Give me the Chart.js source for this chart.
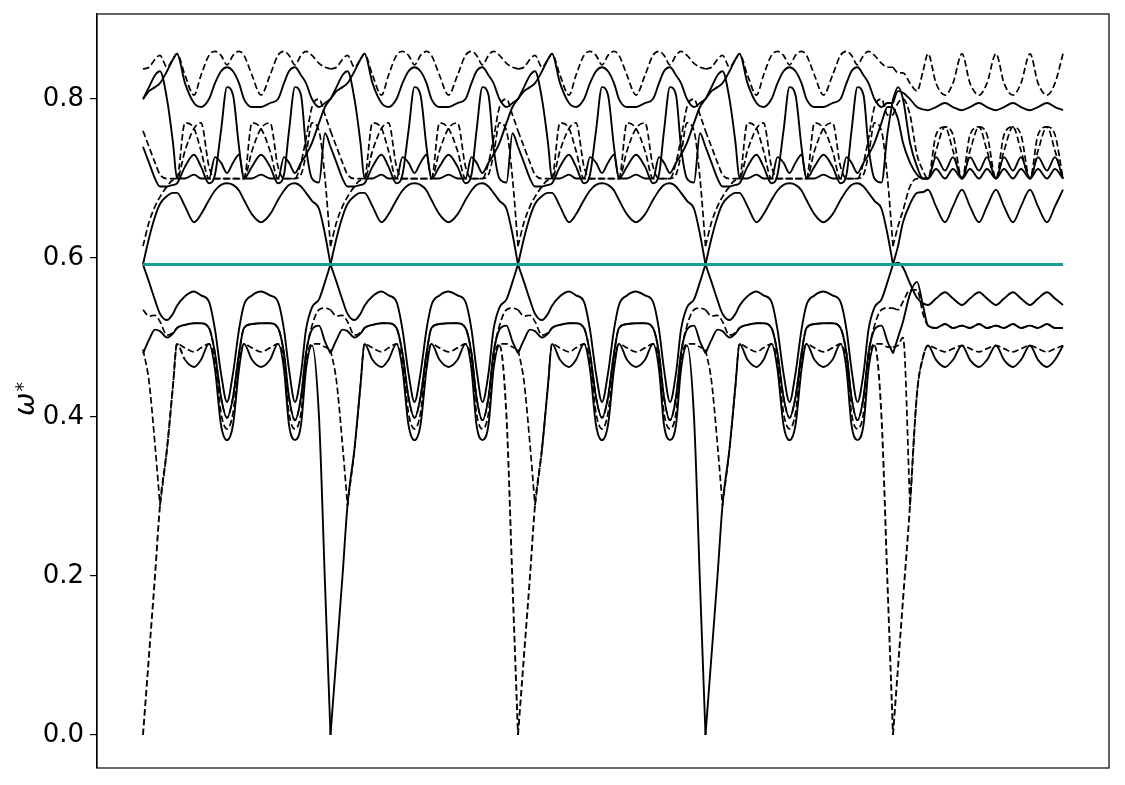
<!DOCTYPE html>
<html>
<head>
<meta charset="utf-8">
<script src="https://cdn.jsdelivr.net/npm/chart.js@4.4.0/dist/chart.umd.min.js"></script>
<style>
  html, body { margin: 0; padding: 0; background: #fff; }
</style>
</head>
<body>
<canvas id="bands" width="1125" height="785"></canvas>
<script>
// positions along the path inside one repeated cell, and in the last (tail) stretch
const cellOffsets = [0, 6, 12, 17, 24, 30, 34, 42, 51, 58, 66, 72, 78, 84, 90, 96, 101, 109, 118, 127, 135, 141, 146, 152, 158, 163, 169, 176, 182];
const cellLength = 187.5;
const cellCount = 4;
const tailOffsets = [0, 5, 10, 17, 24, 30, 35, 43, 52, 60, 69, 77, 86, 94, 103, 111, 120, 128, 137, 145, 154, 162, 170];
const flatLevel = 0.592;
const yTicks = [0, 0.2, 0.4, 0.6, 0.8];

// lower branches (below the flat band)
const l1Cell = [.592, .570, .547, .530, .522, .530, .540, .552, .558, .553, .545, .510, .455, .419, .455, .510, .541, .553, .558, .553, .545, .510, .460, .419, .455, .510, .538, .548, .570];
const l1Tail = [.592, .594, .588, .568, .550, .543, .541, .549, .557, .549, .541, .549, .557, .549, .541, .549, .557, .549, .541, .549, .557, .549, .541];
const l2Cell = [.480, .497, .510, .508, .500, .505, .512, .516, .518, .518, .512, .480, .425, .399, .425, .480, .512, .517, .518, .518, .512, .480, .425, .396, .425, .480, .510, .515, .495];
const l2Tail = [.480, .500, .520, .555, .570, .540, .515, .512, .517, .512, .515, .512, .517, .512, .515, .512, .517, .512, .515, .512, .517, .512, .512];
const d1Cell = [.535, .527, .528, .520, .503, .506, .512, .516, .518, .518, .512, .480, .425, .399, .425, .480, .512, .517, .518, .518, .512, .480, .425, .396, .425, .480, .515, .535, .537];
const d1Tail = [.537, .535, .545, .560, .560, .530, .515, .512, .517, .512, .515, .512, .517, .512, .515, .512, .517, .512, .515, .512, .517, .512, .512];
const l3Cell = [.485, .445, .365, .289, .360, .440, .492, .487, .482, .487, .492, .470, .405, .385, .405, .470, .492, .487, .482, .487, .492, .470, .405, .385, .405, .470, .492, .492, .488];
const l3Tail = [.488, .490, .500, .289, .430, .475, .490, .486, .482, .486, .490, .486, .482, .486, .490, .486, .482, .486, .490, .486, .482, .486, .490];
const l4Cell = [0, .100, .200, .289, .360, .440, .492, .472, .463, .472, .492, .460, .390, .371, .390, .460, .492, .472, .463, .472, .492, .460, .390, .371, .390, .460, .490, .400, .190];
const l4Tail = [0, .085, .170, .289, .430, .475, .490, .472, .463, .472, .490, .472, .463, .472, .490, .472, .463, .472, .490, .472, .463, .472, .490];

// upper branches
const u1Cell = [.592, .625, .652, .668, .678, .682, .682, .665, .645, .655, .673, .685, .692, .694, .692, .685, .673, .655, .645, .655, .673, .685, .692, .694, .690, .682, .672, .662, .630];
const u1Tail = [.592, .615, .645, .668, .682, .683, .686, .665, .645, .665, .686, .665, .645, .665, .686, .665, .645, .665, .686, .665, .645, .665, .686];
const u2Cell = [.615, .645, .665, .677, .690, .698, .700, .770, .763, .735, .700, .700, .700, .700, .700, .700, .700, .770, .763, .735, .700, .700, .700, .700, .705, .730, .770, .760, .700];
const u2Tail = [.615, .640, .660, .690, .700, .700, .700, .755, .765, .735, .700, .755, .765, .735, .700, .755, .765, .735, .700, .755, .765, .735, .700];
const u3Cell = [.760, .740, .720, .705, .700, .700, .700, .735, .763, .770, .715, .700, .700, .700, .700, .700, .700, .735, .763, .770, .715, .700, .700, .700, .720, .750, .790, .800, .780];
const u3Tail = [.780, .795, .800, .780, .730, .710, .700, .735, .765, .755, .700, .735, .765, .755, .700, .735, .765, .755, .700, .735, .765, .755, .700];
const u4Cell = [.740, .720, .700, .690, .690, .692, .694, .715, .730, .715, .694, .705, .760, .815, .805, .740, .700, .715, .730, .715, .694, .705, .760, .815, .805, .740, .700, .695, .757];
const u4Tail = [.800, .815, .800, .745, .715, .700, .700, .727, .710, .727, .700, .727, .710, .727, .700, .727, .710, .727, .700, .727, .710, .727, .700];
const u5Cell = [.800, .815, .830, .835, .800, .745, .700, .700, .705, .700, .700, .727, .720, .707, .720, .730, .700, .700, .705, .700, .700, .727, .720, .707, .720, .730, .745, .770, .790];
const u5Tail = [.790, .775, .745, .720, .705, .700, .700, .712, .700, .712, .700, .712, .700, .712, .700, .712, .700, .712, .700, .712, .700, .712, .700];
const u6Cell = [.800, .810, .815, .820, .835, .850, .857, .820, .795, .790, .800, .820, .835, .840, .835, .820, .800, .790, .790, .795, .800, .820, .835, .840, .830, .820, .800, .790, .795];
const u6Tail = [.795, .810, .808, .800, .790, .787, .786, .790, .795, .790, .786, .790, .795, .790, .786, .790, .795, .790, .786, .790, .795, .790, .786];
const u7Cell = [.838, .840, .850, .855, .840, .850, .857, .830, .805, .830, .855, .860, .855, .843, .855, .860, .855, .830, .805, .830, .855, .860, .855, .843, .855, .860, .855, .845, .840];
const u7Tail = [.840, .833, .833, .820, .810, .835, .857, .820, .805, .820, .857, .820, .805, .820, .857, .820, .805, .820, .857, .820, .805, .820, .857];

const DASH = [6.5, 3.2];

// stretches of the path where the zero-frequency branch is drawn dashed
const spikeDashed = [[-20, 35], [355, 395], [730, 785]];
const inSpikeDash = (x) => spikeDashed.some(([a, b]) => x >= a && x < b);

const bands = [
  { cell: l1Cell, tail: l1Tail, dashed: false },
  { cell: l2Cell, tail: l2Tail, dashed: false },
  { cell: d1Cell, tail: d1Tail, dashed: true },
  { cell: l3Cell, tail: l3Tail, dashed: true, cutAt: 3 },
  { cell: l4Cell, tail: l4Tail, dashed: false, spike: true },
  { cell: u1Cell, tail: u1Tail, dashed: false },
  { cell: u2Cell, tail: u2Tail, dashed: true },
  { cell: u3Cell, tail: u3Tail, dashed: true },
  { cell: u4Cell, tail: u4Tail, dashed: false },
  { cell: u5Cell, tail: u5Tail, dashed: false },
  { cell: u6Cell, tail: u6Tail, dashed: false },
  { cell: u7Cell, tail: u7Tail, dashed: true },
];

// split each band into pieces at the cell edges (and at a cusp if given),
// so the curve keeps its sharp corners there
function bandPieces(band) {
  const pieces = [];
  for (let s = 0; s < cellCount; s++) {
    let cur = [];
    cellOffsets.forEach((o, i) => {
      const pt = { x: s * cellLength + o, y: band.cell[i] };
      cur.push(pt);
      if (band.cutAt === i) {
        pieces.push(cur);
        cur = [pt];
      }
    });
    const endY = s < cellCount - 1 ? band.cell[0] : band.tail[0];
    cur.push({ x: (s + 1) * cellLength, y: endY });
    pieces.push(cur);
  }
  let cur = [];
  tailOffsets.forEach((o, i) => {
    const pt = { x: cellCount * cellLength + o, y: band.tail[i] };
    cur.push(pt);
    if (band.cutAt === i) {
      pieces.push(cur);
      cur = [pt];
    }
  });
  pieces.push(cur);
  return pieces;
}

const datasets = [];
bands.forEach((band) => {
  bandPieces(band).forEach((piece) => {
    const ds = {
      data: piece,
      borderColor: "#000",
      borderWidth: band.dashed ? 1.7 : 1.9,
      borderDash: band.dashed ? DASH : [],
      pointRadius: 0,
      cubicInterpolationMode: "monotone",
      fill: false,
      order: 1,
    };
    if (band.spike) {
      ds.segment = {
        borderDash: (c) => (inSpikeDash(c.p0.parsed.x) ? DASH : undefined),
      };
    }
    datasets.push(ds);
  });
});

const pathEnd = cellCount * cellLength + tailOffsets[tailOffsets.length - 1];
datasets.push({
  data: [{ x: 0, y: flatLevel }, { x: pathEnd, y: flatLevel }],
  borderColor: "#13a091",
  borderWidth: 3,
  pointRadius: 0,
  fill: false,
  order: 0,
});

const frame = {
  id: "frame",
  afterDraw(chart) {
    const { ctx, chartArea: a } = chart;
    ctx.save();
    ctx.strokeStyle = "#000";
    ctx.lineWidth = 1.2;
    ctx.strokeRect(a.left, a.top, a.right - a.left, a.bottom - a.top);
    ctx.restore();
  },
};

const omegaLabel = {
  id: "omegaLabel",
  afterDraw(chart) {
    const ctx = chart.ctx;
    ctx.save();
    ctx.translate(34, 416);
    ctx.rotate(-Math.PI / 2);
    ctx.fillStyle = "#000";
    ctx.textBaseline = "alphabetic";
    ctx.font = "italic 28px 'DejaVu Sans'";
    ctx.fillText("ω", 0, 0);
    const w = ctx.measureText("ω").width;
    ctx.font = "19px 'DejaVu Sans'";
    ctx.fillText("*", w + 1, -5);
    ctx.restore();
  },
};

new Chart(document.getElementById("bands"), {
  type: "line",
  data: { datasets: datasets },
  options: {
    responsive: false,
    animation: false,
    devicePixelRatio: 1,
    layout: { padding: { left: 0, right: 16, top: 14, bottom: 17 } },
    plugins: { legend: { display: false }, tooltip: { enabled: false } },
    scales: {
      x: { type: "linear", min: -46, max: 966, display: false },
      y: {
        min: -0.0415,
        max: 0.907,
        afterBuildTicks: (axis) => {
          axis.ticks = yTicks.map((v) => ({ value: v }));
        },
        afterFit: (axis) => {
          axis.width = 97;
          axis.paddingTop = 0;
          axis.paddingBottom = 0;
        },
        ticks: {
          color: "#000",
          padding: 6,
          font: { family: "DejaVu Sans", size: 26 },
          callback: (v) => Number(v).toFixed(1),
        },
        grid: { drawOnChartArea: false, drawTicks: true, tickLength: 7, color: "#000", lineWidth: 1.2 },
        border: { display: true, color: "#000", width: 1.2 },
      },
    },
  },
  plugins: [frame, omegaLabel],
});
</script>
</body>
</html>
